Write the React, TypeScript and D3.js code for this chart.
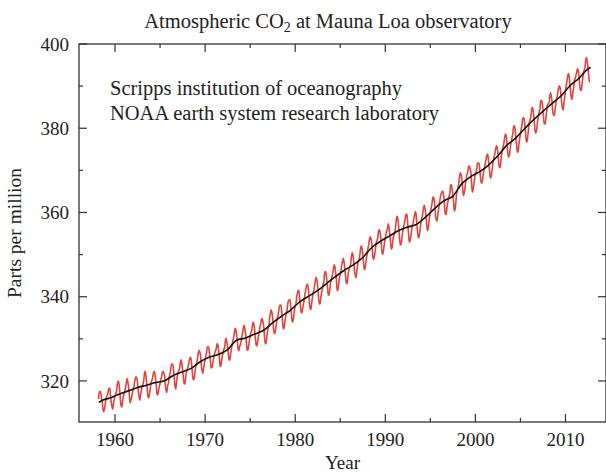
import { useEffect, useRef } from "react";
import * as d3 from "d3";

// Monthly mean CO2 (ppm) at Mauna Loa, one row per year, starting March 1958
const FIRST_YEAR = 1958;
const FIRST_MONTH = 2; // March
const co2Monthly: number[][] = [
  [315.7, 317.5, 317.5, 317.1, 315.9, 314.9, 313.2, 312.7, 313.3, 314.7],
  [315.6, 316.4, 316.7, 317.7, 318.3, 318.2, 316.5, 314.8, 313.8, 313.3, 314.8, 315.6],
  [316.4, 317.0, 317.6, 319.0, 320.0, 319.6, 318.2, 315.9, 314.2, 313.8, 315.0, 316.2],
  [316.9, 317.7, 318.5, 319.5, 320.6, 319.8, 318.6, 316.8, 314.8, 315.4, 316.1, 317.0],
  [317.9, 318.6, 319.7, 320.6, 321.0, 320.6, 319.6, 317.4, 316.3, 315.4, 316.7, 317.7],
  [318.7, 319.1, 319.9, 321.4, 322.3, 321.5, 319.7, 317.8, 316.2, 316.0, 317.1, 318.3],
  [319.6, 320.1, 320.7, 321.8, 322.3, 321.9, 320.4, 318.7, 316.7, 316.8, 317.8, 318.7],
  [319.4, 320.4, 320.9, 322.1, 322.2, 321.9, 321.4, 318.8, 317.8, 317.3, 318.9, 319.4],
  [320.6, 321.6, 322.4, 323.9, 324.0, 323.8, 322.4, 320.4, 318.6, 318.1, 319.8, 321.1],
  [322.1, 322.5, 323.0, 324.4, 325.0, 324.1, 322.6, 320.9, 319.3, 319.3, 320.7, 322.0],
  [322.6, 323.2, 323.9, 325.0, 325.6, 325.4, 324.1, 322.0, 320.4, 320.3, 321.3, 322.8],
  [324.0, 324.4, 325.6, 326.7, 327.3, 326.8, 325.9, 323.7, 322.4, 321.8, 322.9, 324.1],
  [325.0, 326.0, 326.9, 328.1, 328.1, 327.7, 326.4, 324.7, 323.1, 323.2, 324.0, 325.1],
  [326.2, 326.7, 327.2, 327.8, 328.9, 328.6, 327.3, 325.5, 323.4, 323.6, 324.8, 326.0],
  [326.8, 327.6, 327.8, 329.7, 330.1, 329.1, 328.1, 326.3, 324.9, 325.1, 326.5, 327.6],
  [328.5, 329.6, 330.3, 331.5, 332.5, 332.1, 330.9, 329.3, 327.5, 327.2, 328.2, 328.6],
  [329.4, 330.7, 331.5, 332.7, 333.2, 332.2, 331.1, 329.1, 327.3, 327.3, 328.3, 329.6],
  [330.7, 331.5, 331.9, 333.2, 333.9, 333.5, 332.0, 330.0, 328.5, 328.3, 329.4, 330.6],
  [331.6, 332.8, 333.5, 334.6, 334.8, 334.0, 333.1, 330.7, 329.0, 328.8, 330.2, 331.6],
  [332.7, 333.1, 335.0, 336.1, 336.9, 336.2, 334.9, 332.6, 331.3, 331.3, 332.4, 333.6],
  [335.0, 335.3, 336.7, 337.7, 338.0, 338.0, 336.4, 334.4, 332.4, 332.4, 333.8, 334.9],
  [336.1, 336.7, 338.3, 339.0, 339.2, 339.3, 337.5, 335.8, 334.0, 334.2, 335.3, 336.8],
  [337.9, 338.3, 340.0, 340.9, 341.5, 341.3, 339.4, 337.7, 336.2, 336.2, 337.3, 338.3],
  [339.3, 340.6, 341.6, 342.5, 343.0, 342.5, 340.8, 338.4, 337.0, 337.1, 338.6, 339.9],
  [341.0, 341.7, 342.8, 344.0, 344.6, 343.8, 342.3, 340.1, 338.3, 338.3, 339.6, 340.9],
  [341.7, 342.9, 343.3, 345.3, 346.0, 345.6, 344.2, 342.3, 340.4, 340.4, 341.6, 343.1],
  [344.1, 344.8, 345.5, 346.8, 347.6, 347.0, 345.5, 343.6, 341.4, 341.7, 343.1, 344.7],
  [345.2, 346.2, 347.7, 348.3, 349.1, 348.4, 346.7, 345.0, 343.3, 343.1, 344.5, 345.9],
  [346.6, 347.3, 348.0, 349.8, 350.4, 349.9, 348.2, 346.1, 345.2, 344.5, 345.9, 347.2],
  [348.5, 348.7, 349.7, 351.3, 352.1, 351.5, 350.1, 348.1, 346.5, 346.6, 348.0, 349.2],
  [350.4, 351.6, 352.4, 353.7, 354.2, 353.7, 352.7, 350.4, 348.9, 349.1, 350.2, 351.4],
  [352.9, 353.3, 354.0, 355.6, 355.9, 355.4, 354.0, 351.8, 350.1, 350.3, 351.5, 352.9],
  [353.8, 355.0, 355.7, 356.3, 357.3, 356.3, 354.8, 353.0, 351.3, 351.6, 353.1, 354.3],
  [354.8, 355.7, 357.2, 358.7, 359.1, 358.1, 356.2, 353.9, 352.3, 352.4, 353.8, 355.1],
  [356.3, 357.1, 357.9, 359.1, 359.6, 359.3, 357.0, 354.9, 353.0, 353.3, 354.3, 355.6],
  [357.0, 357.3, 358.5, 359.3, 360.2, 359.5, 357.3, 355.6, 354.0, 354.1, 355.4, 356.9],
  [358.2, 358.9, 360.0, 361.2, 361.7, 360.8, 359.4, 357.5, 355.7, 356.1, 357.5, 359.0],
  [359.9, 360.9, 361.8, 363.3, 363.7, 363.2, 361.6, 359.1, 358.2, 358.0, 359.5, 360.7],
  [362.1, 363.2, 364.2, 364.6, 365.1, 364.9, 363.6, 361.4, 359.5, 359.6, 360.9, 362.2],
  [363.1, 364.0, 364.5, 366.4, 366.6, 365.6, 364.3, 362.3, 360.3, 360.8, 362.5, 364.4],
  [365.3, 366.0, 367.2, 368.7, 369.4, 369.0, 367.8, 366.0, 364.0, 364.4, 365.5, 367.1],
  [368.2, 369.1, 369.7, 371.0, 371.0, 370.3, 369.5, 366.9, 364.8, 365.4, 366.7, 368.1],
  [369.3, 369.5, 370.6, 371.8, 371.6, 371.7, 369.9, 368.1, 367.0, 367.0, 368.4, 369.7],
  [370.6, 371.5, 372.4, 373.4, 373.9, 373.2, 371.5, 369.6, 368.2, 368.5, 369.8, 371.2],
  [372.5, 373.2, 374.1, 375.0, 375.8, 375.5, 374.0, 371.9, 370.8, 370.6, 372.3, 373.8],
  [374.9, 375.6, 376.5, 377.7, 378.6, 378.3, 376.7, 374.4, 373.2, 373.2, 374.7, 376.0],
  [377.0, 377.9, 378.9, 380.4, 380.6, 379.7, 377.5, 376.0, 374.3, 374.5, 376.2, 377.5],
  [378.5, 379.7, 380.8, 382.3, 382.5, 382.2, 380.7, 378.7, 376.7, 377.0, 378.4, 380.1],
  [381.4, 382.2, 382.7, 384.6, 385.0, 384.1, 382.5, 380.4, 378.9, 379.1, 380.2, 381.8],
  [382.9, 383.9, 384.6, 386.5, 386.6, 386.1, 384.5, 382.0, 381.0, 381.1, 382.5, 384.0],
  [385.5, 385.8, 386.0, 387.2, 388.5, 387.8, 386.4, 384.1, 383.2, 383.0, 384.2, 385.6],
  [386.9, 387.5, 388.8, 389.6, 390.1, 389.5, 388.0, 386.1, 384.7, 384.4, 386.0, 387.4],
  [388.7, 390.2, 391.2, 392.5, 393.0, 392.2, 390.2, 388.4, 386.9, 387.2, 388.7, 389.8],
  [391.3, 391.9, 392.6, 393.3, 394.2, 393.7, 392.5, 390.1, 389.1, 389.0, 390.3, 391.9],
  [393.1, 393.9, 394.4, 396.2, 396.8, 395.8, 394.5, 392.4, 391.1, 391.0],
];

// Seasonally adjusted trend (black line)
const trendYears = [
  1958.2, 1958.5, 1959.5, 1960.5, 1961.5, 1962.5, 1963.5, 1964.5, 1965.5, 1966.5,
  1967.5, 1968.5, 1969.5, 1970.5, 1971.5, 1972.5, 1973.5, 1974.5, 1975.5, 1976.5,
  1977.5, 1978.5, 1979.5, 1980.5, 1981.5, 1982.5, 1983.5, 1984.5, 1985.5, 1986.5,
  1987.5, 1988.5, 1989.5, 1990.5, 1991.5, 1992.5, 1993.5, 1994.5, 1995.5, 1996.5,
  1997.5, 1998.5, 1999.5, 2000.5, 2001.5, 2002.5, 2003.5, 2004.5, 2005.5, 2006.5,
  2007.5, 2008.5, 2009.5, 2010.5, 2011.5, 2012.5, 2012.8,
];
const trendPpm = [
  314.9, 315.3, 315.98, 316.91, 317.64, 318.45, 318.99, 319.62, 320.04, 321.37,
  322.18, 323.05, 324.62, 325.68, 326.32, 327.46, 329.68, 330.19, 331.13, 332.03,
  333.84, 335.41, 336.84, 338.76, 340.12, 341.48, 343.15, 344.85, 346.35, 347.61,
  349.31, 351.69, 353.2, 354.45, 355.7, 356.54, 357.21, 358.96, 360.97, 362.74,
  363.88, 366.84, 368.54, 369.71, 371.32, 373.45, 375.98, 377.7, 379.98, 382.09,
  384.02, 385.83, 387.64, 390.1, 391.85, 394.06, 394.4,
];

const yMajor = [320, 340, 360, 380, 400];
const yMinor = [330, 350, 370, 390];
const xMajor = [1960, 1970, 1980, 1990, 2000, 2010];
const xMinor = [1965, 1975, 1985, 1995, 2005];

const W = 606;
const H = 473;
const MARGIN = { top: 44, right: 0, bottom: 51, left: 79 };
const FONT = "'Liberation Serif', 'DejaVu Serif', serif";

interface Pt {
  t: number;
  v: number;
}

export default function App() {
  const svgRef = useRef<SVGSVGElement>(null);

  useEffect(() => {
    const svgEl = svgRef.current;
    if (!svgEl) return;

    const monthly: Pt[] = [];
    co2Monthly.forEach((row, yi) => {
      row.forEach((v, mi) => {
        const m = yi === 0 ? FIRST_MONTH + mi : mi;
        monthly.push({ t: FIRST_YEAR + yi + m / 12, v });
      });
    });
    const trend: Pt[] = trendYears.map((t, i) => ({ t, v: trendPpm[i] }));

    const x = d3
      .scaleLinear()
      .domain([1956, 2014.5])
      .range([MARGIN.left, W - MARGIN.right]);
    const y = d3
      .scaleLinear()
      .domain([310.25, 400])
      .range([H - MARGIN.bottom, MARGIN.top]);

    const svg = d3.select(svgEl);
    svg.selectAll("*").remove();

    const x0 = MARGIN.left;
    const x1 = W - MARGIN.right;
    const y0 = H - MARGIN.bottom;
    const y1 = MARGIN.top;
    const axisColor = "#333";

    // --- data lines -----------------------------------------------------
    const line = d3
      .line<Pt>()
      .x((d) => x(d.t))
      .y((d) => y(d.v))
      .curve(d3.curveMonotoneX);

    svg
      .append("path")
      .datum(monthly)
      .attr("fill", "none")
      .attr("stroke", "#e0453d")
      .attr("stroke-width", 1.6)
      .attr("stroke-linejoin", "round")
      .attr("d", line);

    svg
      .append("path")
      .datum(trend)
      .attr("fill", "none")
      .attr("stroke", "#111")
      .attr("stroke-width", 1.6)
      .attr("stroke-linejoin", "round")
      .attr("d", line);

    // --- frame ------------------------------------------------------------
    svg
      .append("rect")
      .attr("x", x0)
      .attr("y", y1)
      .attr("width", x1 - x0)
      .attr("height", y0 - y1)
      .attr("fill", "none")
      .attr("stroke", axisColor)
      .attr("stroke-width", 1.3);

    const ticks = svg.append("g").attr("stroke", axisColor).attr("stroke-width", 1.2);
    const yTick = (vals: number[], len: number) => {
      vals.forEach((v) => {
        ticks.append("line").attr("x1", x0).attr("x2", x0 + len).attr("y1", y(v)).attr("y2", y(v));
        ticks.append("line").attr("x1", x1).attr("x2", x1 - len).attr("y1", y(v)).attr("y2", y(v));
      });
    };
    const xTick = (vals: number[], len: number) => {
      vals.forEach((v) => {
        ticks.append("line").attr("x1", x(v)).attr("x2", x(v)).attr("y1", y0).attr("y2", y0 - len);
        ticks.append("line").attr("x1", x(v)).attr("x2", x(v)).attr("y1", y1).attr("y2", y1 + len);
      });
    };
    yTick(yMajor, 8);
    yTick(yMinor, 4);
    xTick(xMajor, 8);
    xTick(xMinor, 4);

    // --- labels -------------------------------------------------------------
    const text = svg
      .append("g")
      .attr("font-family", FONT)
      .attr("fill", "#222");

    text
      .selectAll("text.ylab")
      .data(yMajor)
      .enter()
      .append("text")
      .attr("x", x0 - 10)
      .attr("y", (d) => y(d))
      .attr("dy", "0.35em")
      .attr("text-anchor", "end")
      .attr("font-size", 19)
      .text((d) => d);

    text
      .selectAll("text.xlab")
      .data(xMajor)
      .enter()
      .append("text")
      .attr("x", (d) => x(d))
      .attr("y", y0 + 24)
      .attr("text-anchor", "middle")
      .attr("font-size", 19)
      .text((d) => d);

    text
      .append("text")
      .attr("x", (x0 + x1) / 2)
      .attr("y", 469)
      .attr("text-anchor", "middle")
      .attr("font-size", 19)
      .text("Year");

    text
      .append("text")
      .attr("transform", `translate(21, ${(y0 + y1) / 2}) rotate(-90)`)
      .attr("text-anchor", "middle")
      .attr("font-size", 19.5)
      .text("Parts per million");

    const title = text
      .append("text")
      .attr("x", 328)
      .attr("y", 28)
      .attr("text-anchor", "middle")
      .attr("font-size", 20.5);
    title.append("tspan").text("Atmospheric CO");
    title.append("tspan").attr("font-size", 14).attr("dy", 4).text("2");
    title.append("tspan").attr("dy", -4).text(" at Mauna Loa observatory");

    text
      .append("text")
      .attr("x", 110)
      .attr("y", 95)
      .attr("font-size", 20.5)
      .text("Scripps institution of oceanography");
    text
      .append("text")
      .attr("x", 110)
      .attr("y", 120)
      .attr("font-size", 20.5)
      .text("NOAA earth system research laboratory");
  }, []);

  return (
    <div style={{ position: "absolute", left: 0, top: 0, width: W, height: H, background: "#fff" }}>
      <svg ref={svgRef} width={W} height={H} style={{ display: "block" }} />
    </div>
  );
}
